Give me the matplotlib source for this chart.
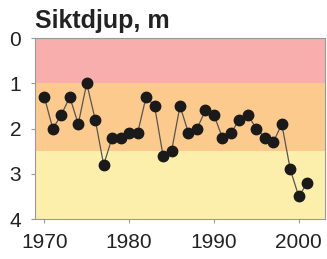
import numpy as np
import matplotlib.pyplot as plt

plt.rcParams['font.family'] = ['Liberation Sans', 'DejaVu Sans']

# siktdjup per year
years = np.arange(1970, 2002)
depth = [1.3, 2.0, 1.7, 1.3, 1.9, 1.0, 1.8, 2.8, 2.2, 2.2, 2.1, 2.1,
         1.3, 1.5, 2.6, 2.5, 1.5, 2.1, 2.0, 1.6, 1.7, 2.2, 2.1, 1.8,
         1.7, 2.0, 2.2, 2.3, 1.9, 2.9, 3.5, 3.2]

# class bands (m)
band_edges = [0, 1, 2.5, 4]
band_colors = ['#f7aeac', '#fcca8c', '#fcefab']

fig = plt.figure(figsize=(3.27, 2.59), dpi=100)
ax = fig.add_axes([0.107, 0.154, 0.887, 0.699])

for i in range(len(band_colors)):
    ax.axhspan(band_edges[i], band_edges[i+1], color=band_colors[i], lw=0, zorder=0)

ax.plot(years, depth, color='#555555', lw=0.9, marker='o', ms=7.5,
        mfc='#1a1a1a', mec='#1a1a1a', zorder=3)

ax.set_xlim(1968.9, 2003.1)
ax.set_ylim(4, 0)
ax.set_xticks([1970, 1980, 1990, 2000])
ax.set_yticks([0, 1, 2, 3, 4])

for s in ax.spines.values():
    s.set_color('#999999')
    s.set_linewidth(0.8)
ax.tick_params(colors='#999999', labelcolor='#222222', labelsize=15,
               length=3, width=0.8)
ax.tick_params(axis='x', pad=7)
ax.tick_params(axis='y', pad=7)

fig.text(0.107, 0.872, 'Siktdjup, m', fontsize=18, fontweight='bold',
         color='#222222', va='bottom', ha='left')

fig.savefig('out.png', dpi=100)
